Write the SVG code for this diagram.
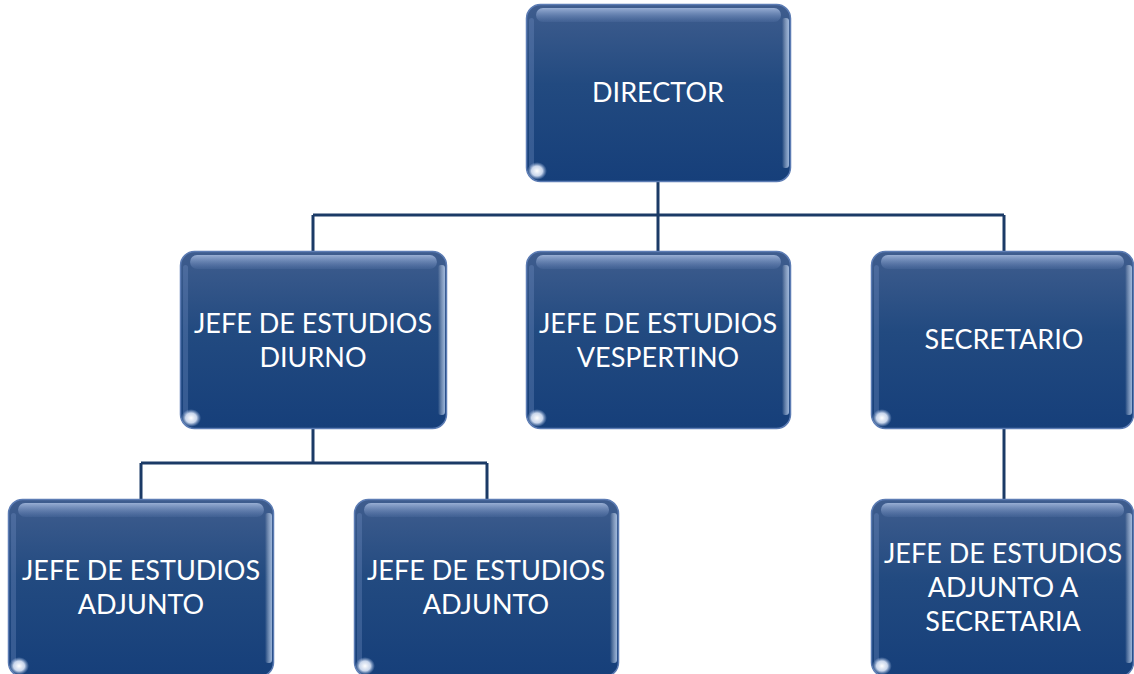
<svg xmlns="http://www.w3.org/2000/svg" width="1134" height="674" viewBox="0 0 1134 674">
<defs>
<linearGradient id="fill" x1="0" y1="0" x2="0" y2="1">
<stop offset="0" stop-color="#3f5d8e"/>
<stop offset="0.45" stop-color="#224a80"/>
<stop offset="1" stop-color="#163f7a"/>
</linearGradient>
<linearGradient id="gloss" x1="0" y1="0" x2="0" y2="1">
<stop offset="0" stop-color="#a8bde0" stop-opacity="0.85"/>
<stop offset="1" stop-color="#6f8cc0" stop-opacity="0.15"/>
</linearGradient>
<linearGradient id="redge" x1="0" y1="0" x2="1" y2="0">
<stop offset="0" stop-color="#ffffff" stop-opacity="0"/>
<stop offset="1" stop-color="#b8cff0" stop-opacity="0.8"/>
</linearGradient>
<radialGradient id="glint" cx="0.5" cy="0.5" r="0.5">
<stop offset="0" stop-color="#ffffff"/>
<stop offset="0.55" stop-color="#e8f0ff" stop-opacity="0.85"/>
<stop offset="1" stop-color="#9fb8e0" stop-opacity="0"/>
</radialGradient>
<symbol id="box" viewBox="0 0 265 178" preserveAspectRatio="none" overflow="visible">
<rect x="0.5" y="0.5" width="264" height="177" rx="14" fill="url(#fill)" stroke="#5c7cb4" stroke-width="1.5"/>
<rect x="10" y="4" width="245" height="14" rx="7" fill="url(#gloss)"/>
<rect x="256" y="14" width="7" height="150" rx="3" fill="url(#redge)"/>
<rect x="3" y="14" width="5" height="150" rx="2.5" fill="#6f8cc0" opacity="0.35"/>
<ellipse cx="11" cy="167" rx="10" ry="9" fill="url(#glint)"/>
</symbol>
</defs>
<style>
.t{font-family:Lato,"Liberation Sans",sans-serif;font-size:27px;fill:#ffffff;text-anchor:middle}
.c{stroke:#1b3a66;stroke-width:3;fill:none}
</style>
<rect width="1134" height="674" fill="#ffffff"/>
<g id="connectors">
<path class="c" d="M658 181V215M313 215H1004M313 215V251M658 215V251M1004 215V251"/>
<path class="c" d="M313 428V463M141 463H487M141 463V499M487 463V499"/>
<path class="c" d="M1004 428V499"/>
</g>
<g id="director">
<use href="#box" x="526" y="4" width="265" height="178"/>
<text class="t" x="658" y="102">DIRECTOR</text>
</g>
<g id="jefe-diurno">
<use href="#box" x="180" y="251" width="267" height="178"/>
<text class="t" x="313" y="333">JEFE DE ESTUDIOS<tspan x="313" dy="34">DIURNO</tspan></text>
</g>
<g id="jefe-vespertino">
<use href="#box" x="526" y="251" width="265" height="178"/>
<text class="t" x="658" y="333">JEFE DE ESTUDIOS<tspan x="658" dy="34">VESPERTINO</tspan></text>
</g>
<g id="secretario">
<use href="#box" x="871" y="251" width="263" height="178"/>
<text class="t" x="1004" y="349">SECRETARIO</text>
</g>
<g id="adjunto-1">
<use href="#box" x="8" y="499" width="266" height="178"/>
<text class="t" x="141" y="580">JEFE DE ESTUDIOS<tspan x="141" dy="34">ADJUNTO</tspan></text>
</g>
<g id="adjunto-2">
<use href="#box" x="354" y="499" width="265" height="178"/>
<text class="t" x="486" y="580">JEFE DE ESTUDIOS<tspan x="486" dy="34">ADJUNTO</tspan></text>
</g>
<g id="adjunto-secretaria">
<use href="#box" x="871" y="499" width="263" height="178"/>
<text class="t" x="1003" y="563">JEFE DE ESTUDIOS<tspan x="1003" dy="34">ADJUNTO A</tspan><tspan x="1003" dy="34">SECRETARIA</tspan></text>
</g>
</svg>
